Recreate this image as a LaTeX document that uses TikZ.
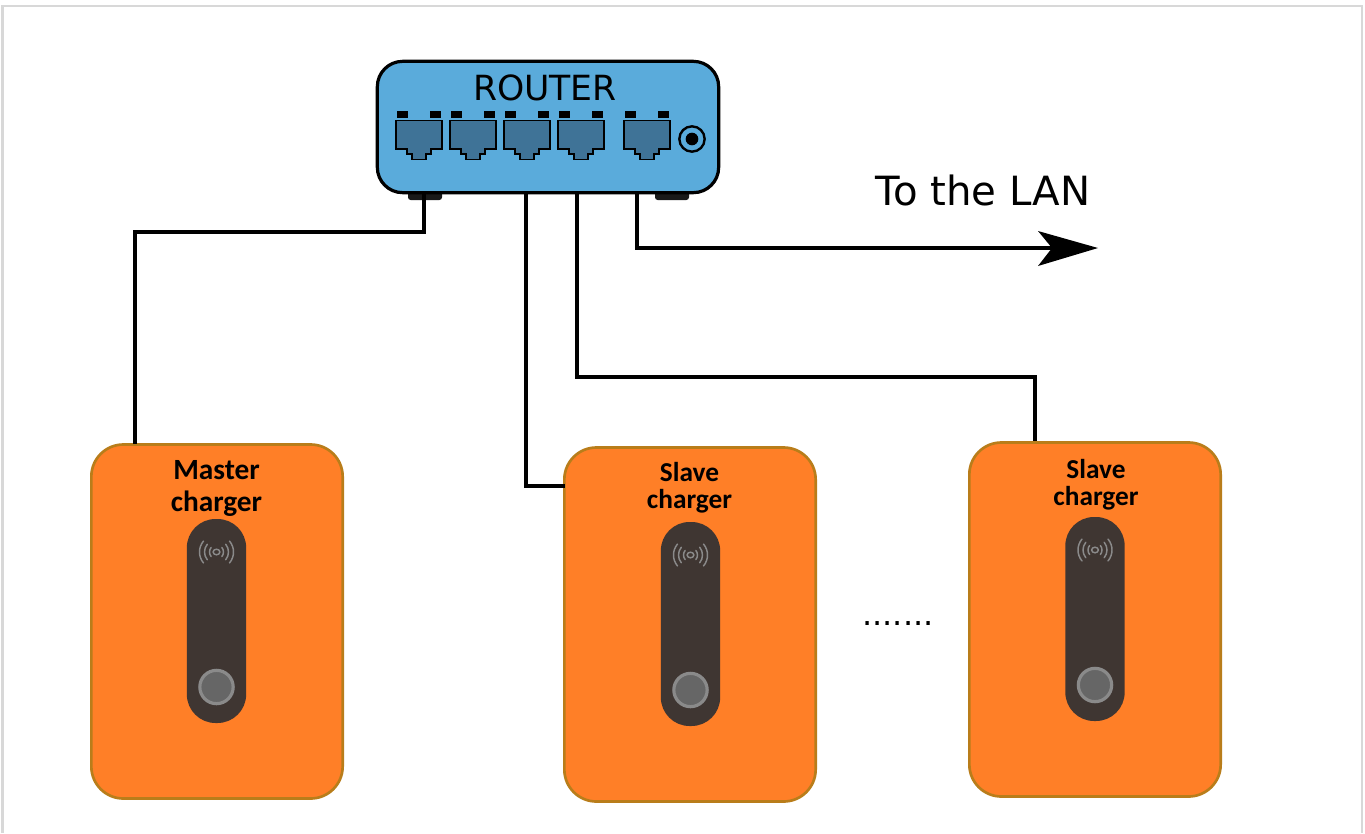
\documentclass[tikz,border=0pt]{standalone}
\usepackage{fontspec}
\setmainfont{DejaVu Sans}
\newfontfamily\carlitofont{Carlito}
\usetikzlibrary{arrows.meta}
\definecolor{routerblue}{HTML}{5AABDB}
\definecolor{portblue}{HTML}{3F7397}
\definecolor{chargerfill}{HTML}{FF7F27}
\definecolor{chargeredge}{HTML}{B97D1A}
\definecolor{paneldark}{HTML}{3F3632}
\definecolor{framegrey}{HTML}{D8D8D8}
\definecolor{ringgrey}{HTML}{8A8A8A}
\definecolor{btngrey}{HTML}{666666}
\tikzset{
  routerbox/.style={draw=black,line width=2.4pt,fill=routerblue,rounded corners=19pt,minimum width=256pt,minimum height=98.5pt,inner sep=0pt},
  chargerbox/.style={draw=chargeredge,line width=2pt,fill=chargerfill,rounded corners=24pt,minimum width=188.5pt,minimum height=265.5pt,inner sep=0pt},
  panelbox/.style={fill=paneldark,rounded corners=21.5pt,minimum width=44.5pt,minimum height=153pt,inner sep=0pt},
  wire/.style={draw=black,line width=2.6pt},
  foot/.style={fill=black!90,rounded corners=2pt},
  portshape/.style={draw=black,line width=1.4pt,fill=portblue},
  chargertext/.style={font=\carlitofont\bfseries\fontsize{22pt}{24pt}\selectfont,align=center,text=black,inner sep=0pt},
  slavetext/.style={font=\carlitofont\bfseries\fontsize{20.5pt}{20.5pt}\selectfont,align=center,text=black,inner sep=0pt},
  btn/.style={circle,draw=ringgrey,line width=2.4pt,fill=btngrey,minimum size=25pt,inner sep=0pt},
  wave/.style={draw=ringgrey,line width=1.1pt,line cap=round},
  framerule/.style={draw=framegrey,line width=1.6pt},
}
\newcommand{\rjport}[1]{%
  \fill[black] (#1+1,111) rectangle (#1+12,117.5);
  \fill[black] (#1+34,111) rectangle (#1+45,117.5);
  \draw[portshape] (#1,120.5) -- (#1+46,120.5) -- (#1+46,149) -- (#1+35,149) -- (#1+35,154) -- (#1+30,154) -- (#1+30,159.5) -- (#1+16,159.5) -- (#1+16,154) -- (#1+11,154) -- (#1+11,149) -- (#1,149) -- cycle;
}
\newcommand{\chargerdetail}[2]{%
  \node[panelbox] at (#1,#2) {};
  \node[btn] at (#1,#2+66) {};
  \draw[wave] (#1,#2-69) ellipse (3.4 and 2.8);
  \foreach \r/\a in {7/40,12/40,17/40}{
    \draw[wave] (#1,#2-69) ++(-\a:\r) arc[start angle=-\a,end angle=\a,radius=\r];
    \draw[wave] (#1,#2-69) ++(180-\a:\r) arc[start angle=180-\a,end angle=180+\a,radius=\r];
  }
}
\begin{document}
\begin{tikzpicture}[x=0.75pt,y=-0.75pt]
\useasboundingbox (0,0) rectangle (1365,833);
\fill[white] (0,0) rectangle (1365,833);
\coordinate (fa) at (2.5,833);
\coordinate (fb) at (2.5,6);
\coordinate (fc) at (1362,6);
\coordinate (fd) at (1362,833);
\draw[framerule] (fa) -- (fb) -- (fc) -- (fd);
% router
\fill[foot] (408,186) rectangle (442,200);
\fill[foot] (655,186) rectangle (689,200);
\node[routerbox] (router) at (548,127) {};
\node[font=\fontsize{26pt}{30pt}\selectfont,inner sep=0pt] (routerlabel) at (545,88) {ROUTER};
\rjport{396}\rjport{450}\rjport{504}\rjport{558}\rjport{624}
\node[circle,draw=black,line width=1.8pt,fill=routerblue,minimum size=19pt,inner sep=0pt] (jackouter) at (692,139) {};
\node[circle,fill=black,minimum size=9.5pt,inner sep=0pt] (jackinner) at (692,139) {};
% chargers
\node[chargerbox] (master) at (217,621.5) {};
\node[chargerbox] (slavea) at (690,624.5) {};
\node[chargerbox] (slaveb) at (1095,619.5) {};
\chargerdetail{216.5}{621}
\chargerdetail{690.5}{624}
\chargerdetail{1095}{619}
\node[chargertext] (tm) at (216.5,488) {Master\\charger};
\node[slavetext] (ta) at (689.5,488) {Slave\\charger};
\node[slavetext] (tb) at (1096,485) {Slave\\charger};
% wires
\coordinate (w1) at (424,193);
\coordinate (w2) at (526,193);
\coordinate (w3) at (577,193);
\coordinate (w4) at (637,193);
\coordinate (lan) at (1098,248);
\coordinate (m1) at (135,444);
\coordinate (s1) at (565,486);
\coordinate (s2) at (1035,441);
\draw[wire] (w1) -- (424,232) -- (135,232) -- (m1);
\draw[wire] (w2) -- (526,486) -- (s1);
\draw[wire] (w3) -- (577,377) -- (1035,377) -- (s2);
\draw[wire] (w4) -- (637,248) -- (1060,248);
\coordinate (tipback) at (1052,248);
\fill[black] (lan) -- (1038,231) -- (tipback) -- (1038,266) -- cycle;
\node[font=\fontsize{30.2pt}{34pt}\selectfont,inner sep=0pt] (lanlabel) at (983,190) {To the LAN};
\node[font=\fontsize{24pt}{26pt}\selectfont,inner sep=0pt] (dots) at (898,624) {.......};
\end{tikzpicture}
\end{document}
